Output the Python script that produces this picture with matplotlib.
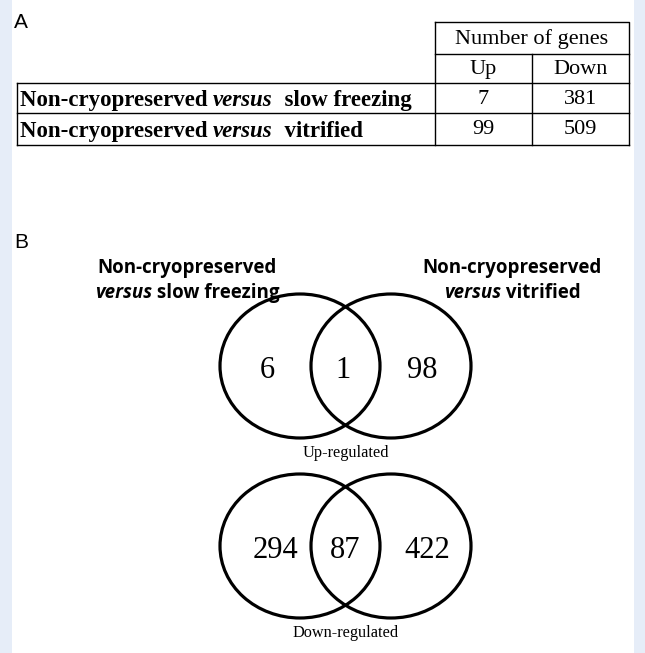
import matplotlib
matplotlib.use('Agg')
import matplotlib.pyplot as plt
from matplotlib.patches import Ellipse, Rectangle

# Panel A: DEG counts per comparison
comparisons = ["slow freezing", "vitrified"]
up_counts = [7, 99]
down_counts = [381, 509]

# Panel B: Venn overlaps (only slow, shared, only vitrified)
venn_up = [6, 1, 98]
venn_down = [294, 87, 422]
venn_titles = ["Up-regulated", "Down-regulated"]

W, H = 645, 653
fig = plt.figure(figsize=(W / 100, H / 100), dpi=100)
ax = fig.add_axes([0, 0, 1, 1])
ax.set_xlim(0, W)
ax.set_ylim(H, 0)
ax.axis('off')

side_col = '#e6edf8'
ax.add_patch(Rectangle((0, 0), 12, H, color=side_col, lw=0))
ax.add_patch(Rectangle((634, 0), W - 634, H, color=side_col, lw=0))

serif = 'Liberation Serif'
sans = 'Open Sans'
renderer = fig.canvas.get_renderer()


def run_text(x, y, pieces, ha='left'):
    # pieces drawn one after another on a shared baseline
    arts = []
    cx = x
    for s, kw in pieces:
        t = ax.text(cx, y, s, va='baseline', ha='left', **kw)
        bb = t.get_window_extent(renderer)
        cx += bb.width
        arts.append(t)
    if ha == 'center':
        shift = (cx - x) / 2
        for t in arts:
            px, py = t.get_position()
            t.set_position((px - shift, py))


# ---- panel A ----
ax.text(14, 22, "A", fontsize=15, family='Liberation Sans', va='center', ha='left')

lw = 1.0
xl, xa, xb, xr = 17, 435, 532, 629
y0, y1, y2, y3, y4 = 22, 54, 83, 113, 145
ax.plot([xa, xr, xr], [y0, y0, y4], color='k', lw=lw)
ax.plot([xa, xa], [y0, y4], color='k', lw=lw)
ax.plot([xa, xr], [y1, y1], color='k', lw=lw)
ax.plot([xb, xb], [y1, y4], color='k', lw=lw)
ax.plot([xl, xr], [y2, y2], color='k', lw=lw)
ax.plot([xl, xr], [y3, y3], color='k', lw=lw)
ax.plot([xl, xr], [y4, y4], color='k', lw=lw)
ax.plot([xl, xl], [y2, y4], color='k', lw=lw)

fs_tab = 16
fs_lab = 16.5
ax.text((xa + xr) / 2, (y0 + y1) / 2 + 1, "Number of genes", family=serif,
        fontsize=fs_tab, ha='center', va='center')
ax.text((xa + xb) / 2, (y1 + y2) / 2 + 1, "Up", family=serif,
        fontsize=fs_tab, ha='center', va='center')
ax.text((xb + xr) / 2, (y1 + y2) / 2 + 1, "Down", family=serif,
        fontsize=fs_tab, ha='center', va='center')

rows_y = [(y2 + y3) / 2 + 1, (y3 + y4) / 2 + 1]
for i, comp in enumerate(comparisons):
    bold = dict(family=serif, fontsize=fs_lab, fontweight='bold')
    ital = dict(family=serif, fontsize=fs_lab, fontweight='bold', style='italic')
    run_text(20, rows_y[i] + 7, [("Non-cryopreserved ", bold), ("versus", ital),
                                 ("  " + comp, bold)])
    ax.text((xa + xb) / 2, rows_y[i], str(up_counts[i]), family=serif,
            fontsize=fs_tab, ha='center', va='center')
    ax.text((xb + xr) / 2, rows_y[i], str(down_counts[i]), family=serif,
            fontsize=fs_tab, ha='center', va='center')

# ---- panel B ----
ax.text(14, 243, "B", fontsize=15, family='Liberation Sans', va='center', ha='left')

hb = dict(family=sans, fontsize=13.5, fontweight='bold')
hi = dict(family=sans, fontsize=13.5, fontweight='bold', style='italic')
head_x = [187, 512]
for i, comp in enumerate(comparisons):
    ax.text(head_x[i], 268, "Non-cryopreserved", ha='center', va='center', **hb)
    run_text(head_x[i], 298, [("versus", hi), (" " + comp, hb)], ha='center')

venn_cy = [366, 546]
cx_left, cx_right = 300, 391
rx, ry = 80, 72
for k, vals in enumerate([venn_up, venn_down]):
    cy = venn_cy[k]
    for cx in (cx_left, cx_right):
        ax.add_patch(Ellipse((cx, cy), 2 * rx, 2 * ry, fill=False,
                             edgecolor='k', lw=2.3))
    xs = [cx_left - 33, (cx_left + cx_right) / 2 - 3, cx_right + 31] if k == 0 \
        else [cx_left - 25, (cx_left + cx_right) / 2, cx_right + 36]
    for x, v in zip(xs, vals):
        ax.text(x, cy + 4, str(v), family=serif, fontsize=22,
                ha='center', va='center')
    ax.text(346, cy + 87, venn_titles[k], family=serif, fontsize=11.7,
            ha='center', va='center')

fig.savefig("out.png", dpi=100)
